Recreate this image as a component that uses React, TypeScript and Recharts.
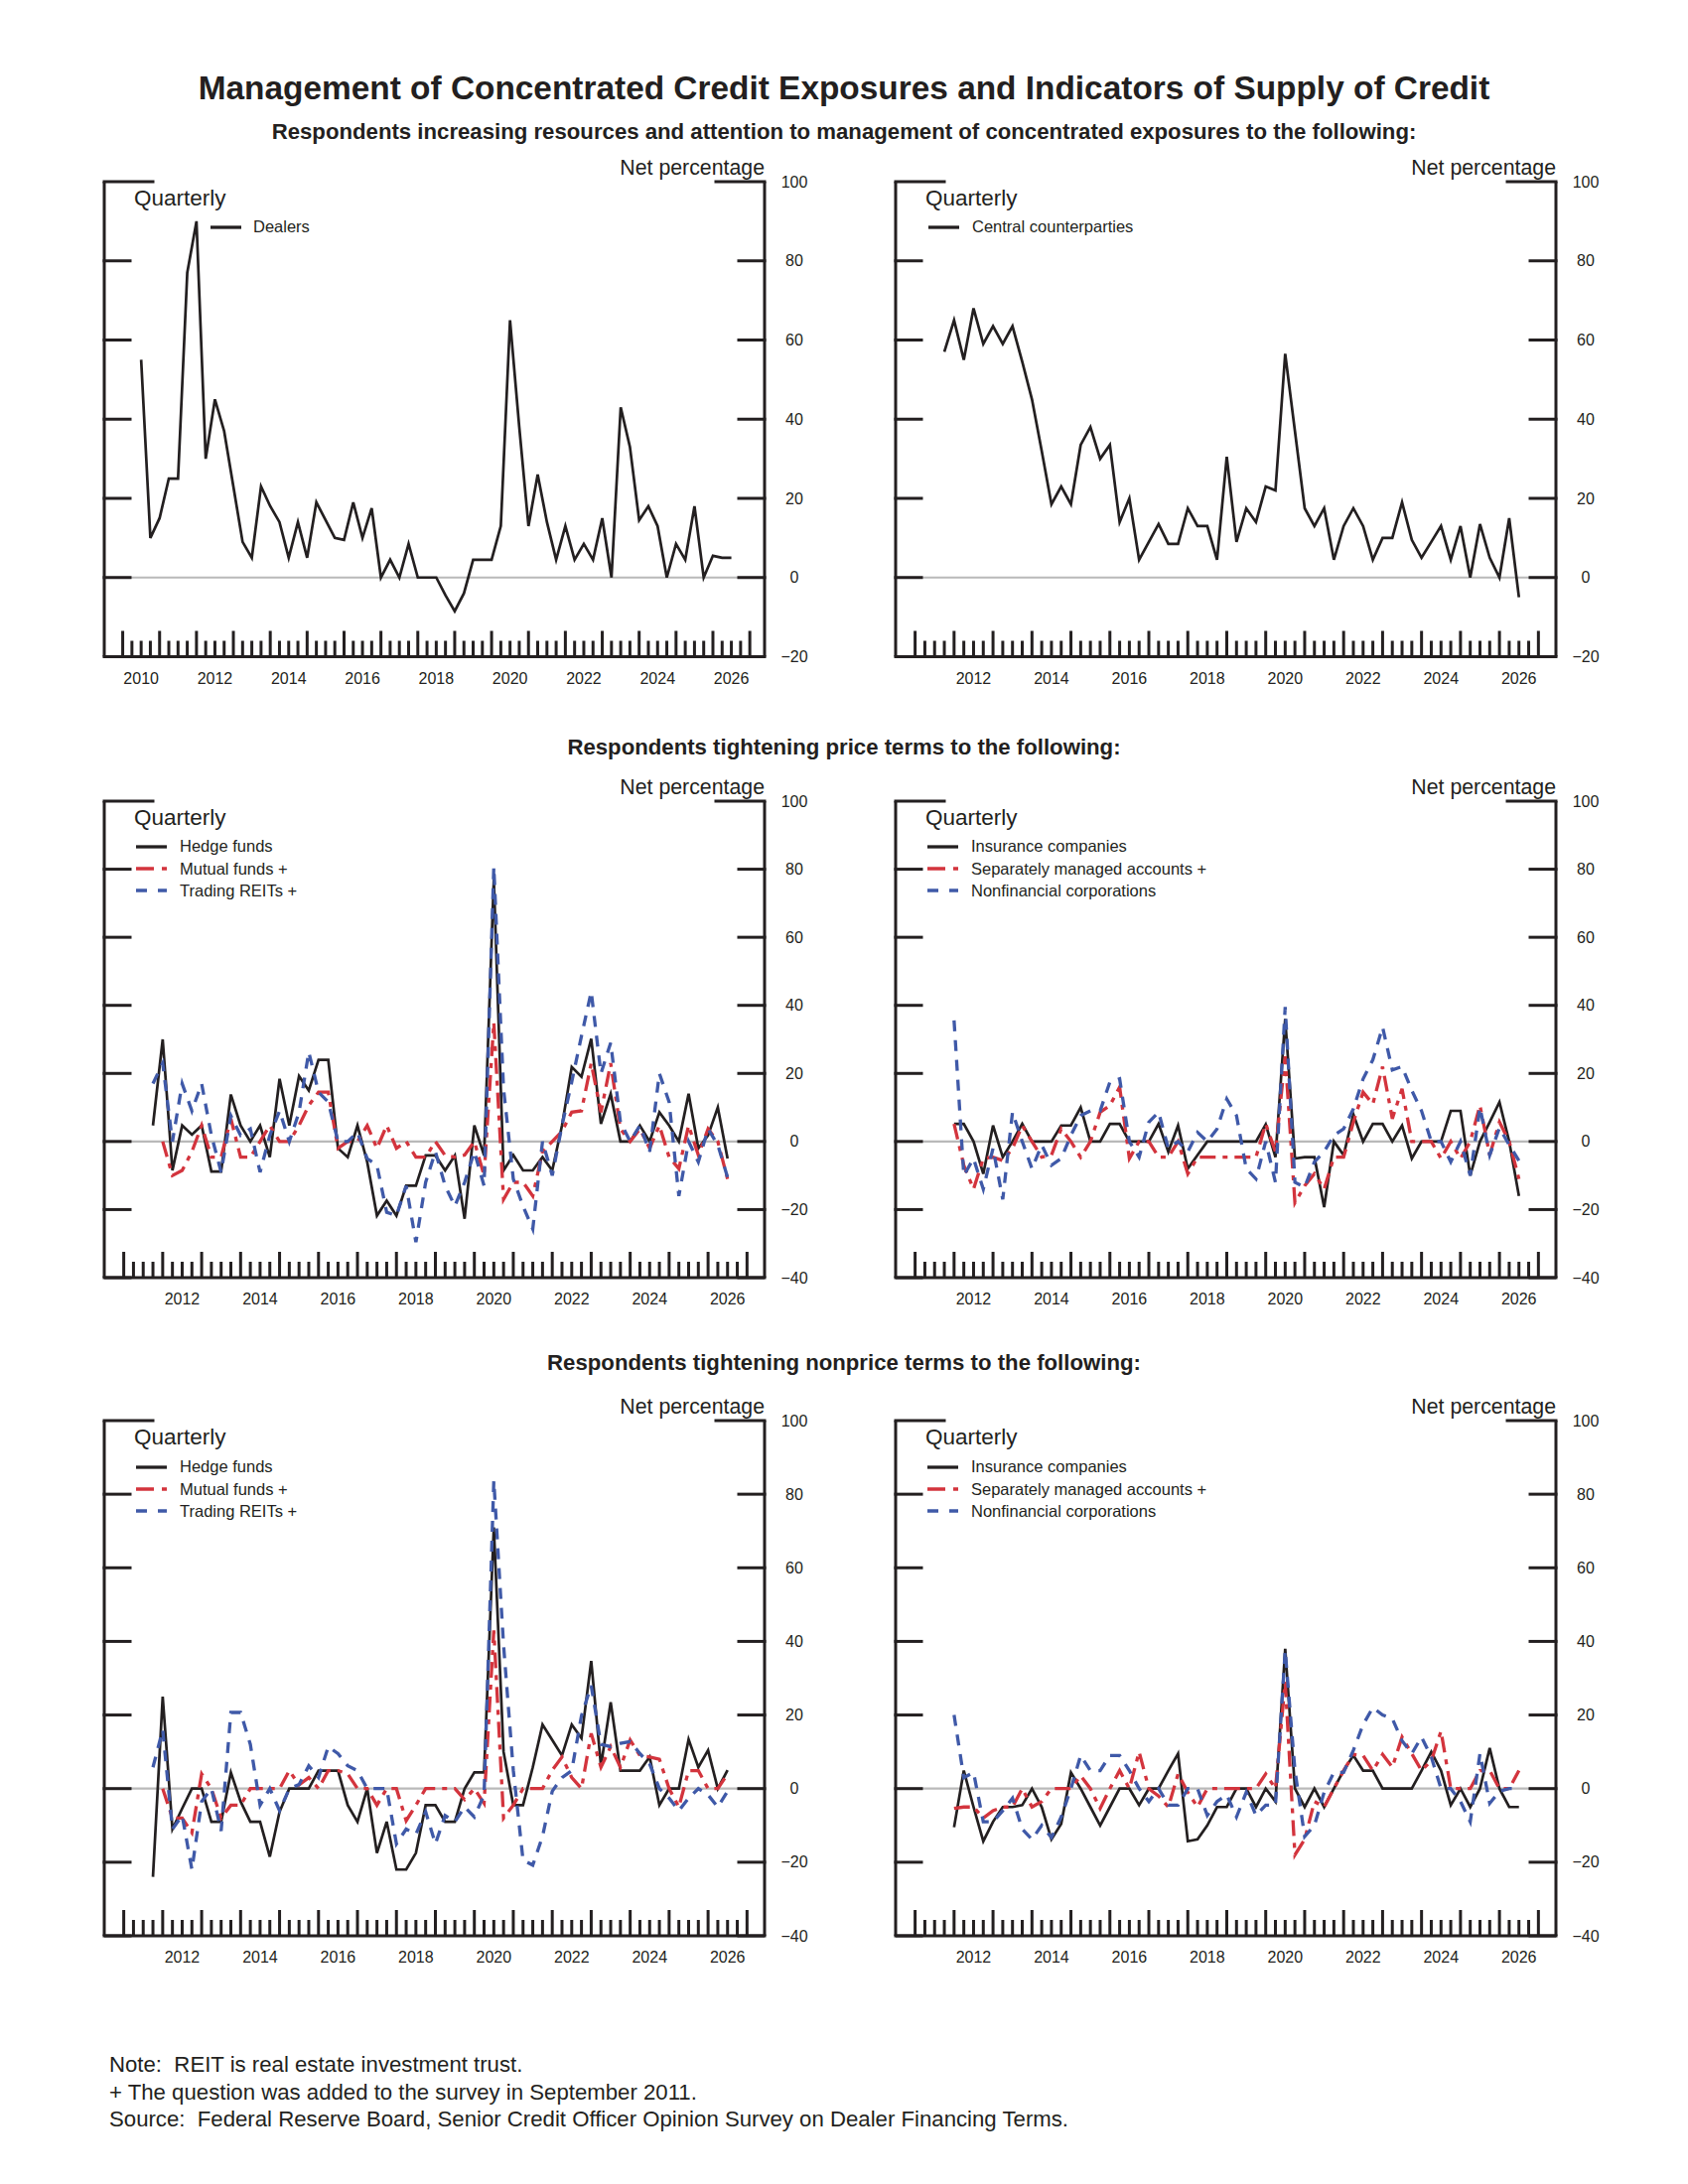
import React from "react";
import { LineChart, Line, XAxis, YAxis, ReferenceLine, Legend } from "recharts";

const FONT = "'Liberation Sans', Arial, Helvetica, sans-serif";
const INK = "#231f20";
const RED = "#d3343d";
const BLUE = "#3f59a8";
const ZERO = "#b9b9b9";
const FRAME_W = 3;

// ---- Net percentage, quarterly. Each series: first quarter position + values ----
const dealersStart = 2010.5;
const dealers = [55, 10, 15, 25, 25, 77, 90, 30, 45, 37, 23, 9, 5, 23, 18, 14, 5, 14, 5, 19, 14.5, 10, 9.5, 19, 10, 17.5, 0, 4.5, 0, 8.5, 0, 0, 0, -4.5, -8.5, -4, 4.5, 4.5, 4.5, 13, 65, 38, 13, 26, 14, 4.5, 13, 4.5, 8.5, 4.5, 15, 0, 43, 33, 14.5, 18, 13, 0, 8.5, 4.5, 18, 0, 5.5, 5, 5];

const ccpStart = 2011.75;
const centralCounterparties = [57, 65, 55, 68, 59, 63.5, 59, 63.5, 54.5, 45, 32, 18.5, 23, 18.5, 33.5, 38, 30, 33.5, 14, 20, 4.5, 9, 13.5, 8.5, 8.5, 17.5, 13, 13, 4.5, 30.5, 9, 17.5, 14, 23, 22, 56.5, 37, 17.5, 13, 17.5, 4.5, 13, 17.5, 13, 4.5, 10, 10, 19, 9.5, 5, 9, 13, 4.5, 13, 0, 13.5, 5, 0, 15, -5];

const leftStart = 2011.75;
const rightStart = 2012;

const priceHedge = [4.7, 30, -8.5, 4.7, 2, 4.7, -8.8, -8.8, 13.8, 4.7, 0, 4.7, -4.6, 18.4, 4.7, 19.2, 15, 24, 24, -2, -4.6, 4.7, -6, -21.8, -17.4, -21.8, -13, -13, -4.1, -4.1, -8.5, -4.1, -22.7, 4.7, -4.1, 77, -8.5, -4, -8.5, -8.5, -4.6, -8.5, 4.7, 21.9, 19, 30.2, 5.2, 14, 0, 0, 4.7, 0, 8.6, 4.7, 0, 14, -2, 1.8, 10, -5];
const priceMutual = [null, 0, -10, -8.5, -3, 4.7, -4.6, -4.6, 6.7, -4.6, -4.6, 0, 4.7, 0, 0, 4.7, 10.6, 14.5, 14.5, -2, 0, 0, 4.7, -2, 4.7, -2, 0, -4.6, -4.6, 0, -4.1, -4.6, -4, 0, -10, 35, -17, -12, -12, -16, -3, 0, 3, 8.6, 9, 23, 8.6, 23, 3.7, 0, 3.7, -2, 4.7, -4.6, -8, 4.7, -4, 3.7, 0, -11];
const priceReits = [17, 23, 0, 17, 9, 17, 1.8, -9, 7.6, 1.8, 3.7, -9, 1.8, 9, 0, 8.6, 26.3, 14.5, 11.6, 0, 0, 2.7, -5, -7, -20.8, -21.8, -13, -29.6, -12, -3, -13, -19, -12, -3, -13, 80.7, 15.5, -11, -19, -25.7, 0, -10, 4.7, 17.5, 31, 44, 20, 29, 5.7, 0, 4.7, -3, 20, 11.6, -16, 0, -6, 3.7, -1, -10.5];

const priceInsurance = [5.2, 5.2, 0, -9.5, 4.7, -4.6, 0, 5.2, 0, 0, 0, 4.7, 4.7, 10, 0, 0, 5.2, 5.2, 0, 0, 0, 5.2, -3, 4.7, -8, -4, 0, 0, 0, 0, 0, 0, 5, -4.6, 36, -5, -4.6, -4.6, -19.3, 0, -4, 8, 0, 5.2, 5.2, 0, 4.7, -5, 0, 0, 0, 9, 9, -10, 0, 5.7, 11.6, 0, -16];
const priceSma = [5.2, -7, -14, -5, -4.6, -5.6, -2, 4.7, 0, -4.6, -4, 3.7, 0, -4.6, 0, 8.6, 10.6, 16, -5, 0, 0, -4.6, -4.6, 0, -9.5, -4.6, -4.6, -4.6, -4.6, -4.6, -4.6, -4.6, 5.2, -3, 25, -18, -13, -9.5, -14, -4.6, -4.6, 5.7, 14.5, 11, 22, 6.7, 15.5, 0, 0, 0, -5, 0, -5, 0, 10.6, -4, 5.7, 0, -11];
const priceNonfin = [35.6, -10, -5, -14, -2, -17, 8.6, 0, -8, -1, -7, -5, 1.8, 7.6, 9, 9, 17.5, 18.4, 0, -4.6, 5.7, 8.6, -2, 0, -3, 2.7, 0, 3.7, 12.5, 7.6, -8, -11, 0, -12, 39.5, -12, -13.4, -6, -3, 1.8, 3.7, 9.6, 18.4, 24, 33.6, 21, 22, 15, 9, 0, 0, -6, 0, -10, 10, -4, 4, -1, -5.6];

const nonpriceHedge = [-24, 25, -11, -5.4, 0, 0, -9, -9, 4.4, -3.5, -9, -9, -18.5, -6.3, 0, 0, 0, 4.9, 4.9, 4.9, -4.5, -9, 0, -17.5, -9, -22, -22, -17.5, -4.5, -4.5, -9, -9, 0, 4.4, 4.4, 71, 10, -4.5, -4.5, 5.8, 17.4, 13.2, 9, 17.4, 13.7, 34.7, 6.2, 23.5, 4.9, 4.9, 4.9, 8.6, -4.5, 0, 0, 13.4, 5.8, 10.4, 0, 5];
const nonpriceMutual = [null, 0, -8, -8, -12, 4, 0, -8, -4.5, -4.5, 0, 0, 0, 0, 4.9, 1, 3, 0, 4.9, 4.9, 4, 0, 0, -4.5, 0, 0, -8.7, -4.5, 0, 0, 0, 0, -3, 0, -4, 43, -8, -4.5, 0, 0, 0, 5, 8.6, 3, 0, 15, 5.8, 11.4, 5.8, 13.2, 9, 8.6, 8, 0, -5, 4.9, 4.9, 0, 0, 4];
const nonpriceReits = [5.8, 16, -11, -7.3, -22, -3.5, 0, -11.5, 20.7, 20.7, 12, -4.5, 0, -6, 0, 1.1, 6.2, 3, 11.4, 9.5, 6.2, 4.9, 0, 0, 0, -15, -11, -12.4, -6.3, -15, -7.3, -9, -5, -7.7, -1.7, 83.7, 39, 5, -19.4, -20.8, -13, -0.7, 3, 4.9, 19.8, 28, 12, 11.4, 12.3, 12.8, 9.5, 6.7, 0, -2.6, -6, -2.6, 0, -1.7, -5, -0.7];

const nonpriceInsurance = [-10.5, 4.9, -5, -14.3, -9, -5, -5, -4.5, 0, -5, -13.8, -9.6, 4.4, 0, -5, -10, -5, 0, 0, -4.5, 0, 0, 4.9, 9.5, -14.3, -13.8, -10, -5, -5, 0, 0, -5, 0, -3.5, 38, 0, -5, 0, -5, 0, 4.9, 9, 4.9, 4.9, 0, 0, 0, 0, 4.9, 10, 4.9, -4.5, 0, -5, 0, 11, 0, -5, -5];
const nonpriceSma = [-5.4, -5, -5, -8, -6, -5, -5, 0, -5, -3.5, 0, 0, 0, 3.5, 0, -5.4, 0, 4.9, 0, 10, 0, -2, -5, 4, -1, -5, 0, 0, 0, 0, 0, 0, 4, 0, 29, -18, -13.8, -3.5, -5, 0, 4.9, 9.3, 9, 4.9, 9.3, 5.8, 14, 9.5, 4.9, 7.6, 15.6, 0, 0, 0, 4.9, 4.9, 0, 0, 4.9];
const nonpriceNonfin = [20, 3, 4.4, -9, -9, -6, -2.6, -11, -13.8, -10, -13.3, -7.7, 0, 9, 4.9, 4.9, 9, 9, 4.9, 0, -3.5, 0, -4.5, -4.5, 0, 0, -7.3, -3.5, -1.7, -7.7, -1, -7.3, -4.5, -4.5, 37.5, 5, -13, -10, -1, 4.4, 4.4, 10.4, 17.4, 22, 20, 19, 13, 9.5, 14, 8.6, 0, 0, -3.5, -9, 9.5, -4, -0.7, 0, 0];

const yTicksTop = [-20, 0, 20, 40, 60, 80, 100];
const yTicksLower = [-40, -20, 0, 20, 40, 60, 80, 100];

type Series = {
  key: string;
  name: string;
  start: number;
  values: (number | null)[];
  color: string;
  width: number;
  dash?: string;
};

type PanelSpec = {
  id: string;
  left: number;
  top: number;
  width: number;
  height: number;
  xDomain: [number, number];
  firstTick: number;
  yTicks: number[];
  series: Series[];
  legendX: number;
  legendY: number;
  rowH: number;
};

const solid = (key: string, name: string, start: number, values: (number | null)[]): Series => ({ key, name, start, values, color: INK, width: 2.7 });
const redDash = (key: string, name: string, start: number, values: (number | null)[]): Series => ({ key, name, start, values, color: RED, width: 3.3, dash: "16 7 5 7" });
const blueDash = (key: string, name: string, start: number, values: (number | null)[]): Series => ({ key, name, start, values, color: BLUE, width: 3.3, dash: "11 9" });

function buildRows(series: Series[]) {
  const map = new Map<number, Record<string, number | null>>();
  series.forEach((s) =>
    s.values.forEach((v, i) => {
      const t = s.start + i * 0.25;
      const row = map.get(t) ?? { t };
      row[s.key] = v;
      map.set(t, row);
    })
  );
  return [...map.values()].sort((a, b) => (a.t as number) - (b.t as number));
}

const PAD = 12;
const AXIS_W = 70;
const AXIS_H = 46;

function LegendBox({ series, rowH, gap }: { series: Series[]; rowH: number; gap: number }) {
  return (
    <div style={{ fontFamily: FONT, fontSize: 16.5, color: INK }}>
      {series.map((s) => (
        <div key={s.key} style={{ display: "flex", alignItems: "center", height: rowH, whiteSpace: "nowrap" }}>
          <svg width={31} height={8} style={{ display: "block" }}>
            <line x1={0} x2={31} y1={4} y2={4} stroke={s.color} strokeWidth={3.3} strokeDasharray={s.dash ? (s.color === RED ? "18 8 5 8" : "11 11") : undefined} />
          </svg>
          <span style={{ marginLeft: gap, lineHeight: 1 }}>{s.name}</span>
        </div>
      ))}
    </div>
  );
}

function Panel({ p }: { p: PanelSpec }) {
  const rows = buildRows(p.series);
  const xTicks: number[] = [];
  for (let t = p.firstTick; t <= 2027 + 1e-9; t += 0.25) xTicks.push(t);
  const yMin = p.yTicks[0];
  const yMax = p.yTicks[p.yTicks.length - 1];

  const XTick = (props: any) => {
    const { x, y, payload } = props;
    const v = payload.value as number;
    const whole = Math.abs(v - Math.round(v)) < 1e-6;
    const mid = Math.abs(v - Math.floor(v) - 0.5) < 1e-6;
    const label = mid && Math.floor(v) % 2 === 0;
    return (
      <g>
        <line x1={x} x2={x} y1={y} y2={y - (whole ? 26 : 16)} stroke={INK} strokeWidth={FRAME_W} />
        {label && (
          <text x={x} y={y + 27} textAnchor="middle" fontSize={16} fill={INK} fontFamily={FONT}>
            {Math.floor(v)}
          </text>
        )}
      </g>
    );
  };

  const YTick = (props: any) => {
    const { x, y, payload } = props;
    const v = payload.value as number;
    const len = v === yMax ? 49 : 26;
    const text = v < 0 ? `\u2212${-v}` : `${v}`;
    return (
      <g>
        <line x1={x} x2={x - len} y1={y} y2={y} stroke={INK} strokeWidth={FRAME_W} strokeLinecap="square" />
        <line x1={x - p.width} x2={x - p.width + len} y1={y} y2={y} stroke={INK} strokeWidth={FRAME_W} strokeLinecap="square" />
        <text x={x + 30} y={y + 5.5} textAnchor="middle" fontSize={16} fill={INK} fontFamily={FONT}>
          {text}
        </text>
      </g>
    );
  };

  return (
    <div style={{ position: "absolute", left: p.left - PAD, top: p.top - PAD }}>
      <LineChart
        width={p.width + PAD + AXIS_W}
        height={p.height + PAD + AXIS_H}
        data={rows}
        margin={{ top: PAD, left: PAD, right: 0, bottom: 0 }}
      >
        <ReferenceLine y={0} stroke={ZERO} strokeWidth={2.2} />
        <ReferenceLine x={p.xDomain[0]} stroke={INK} strokeWidth={FRAME_W} />
        <XAxis
          type="number"
          dataKey="t"
          domain={p.xDomain}
          ticks={xTicks}
          interval={0}
          allowDataOverflow
          tickSize={0}
          tickMargin={0}
          tickLine={false}
          axisLine={{ stroke: INK, strokeWidth: FRAME_W }}
          height={AXIS_H}
          tick={XTick}
        />
        <YAxis
          orientation="right"
          type="number"
          domain={[yMin, yMax]}
          ticks={p.yTicks}
          interval={0}
          allowDataOverflow
          tickSize={0}
          tickMargin={0}
          tickLine={false}
          axisLine={{ stroke: INK, strokeWidth: FRAME_W }}
          width={AXIS_W}
          tick={YTick}
        />
        <Legend
          layout="vertical"
          align="center"
          verticalAlign="middle"
          wrapperStyle={{ left: PAD + p.legendX, top: PAD + p.legendY, width: "auto", height: "auto" }}
          content={() => <LegendBox series={p.series} rowH={p.rowH} gap={p.legendX > 60 ? 12 : 13} />}
        />
        {p.series.map((s) => (
          <Line
            key={s.key}
            type="linear"
            dataKey={s.key}
            name={s.name}
            stroke={s.color}
            strokeWidth={s.width}
            strokeDasharray={s.dash}
            dot={false}
            activeDot={false}
            isAnimationActive={false}
          />
        ))}
      </LineChart>
    </div>
  );
}

const L = 105;
const R = 902;
const W = 665;
const TOP_Y = 182.5;
const MID_Y = 807;
const BOT_Y = 1431;

const panels: PanelSpec[] = [
  {
    id: "tl", left: L, top: TOP_Y, width: W, height: 478.5, xDomain: [2009.5, 2027.4], firstTick: 2010, yTicks: yTicksTop,
    series: [solid("dealers", "Dealers", dealersStart, dealers)], legendX: 107, legendY: 35, rowH: 22,
  },
  {
    id: "tr", left: R, top: TOP_Y, width: W, height: 478.5, xDomain: [2010.5, 2027.45], firstTick: 2011, yTicks: yTicksTop,
    series: [solid("ccp", "Central counterparties", ccpStart, centralCounterparties)], legendX: 33, legendY: 35, rowH: 22,
  },
  {
    id: "ml", left: L, top: MID_Y, width: W, height: 480, xDomain: [2010.5, 2027.45], firstTick: 2011, yTicks: yTicksLower,
    series: [
      solid("hedge", "Hedge funds", leftStart, priceHedge),
      redDash("mutual", "Mutual funds +", leftStart, priceMutual),
      blueDash("reits", "Trading REITs +", leftStart, priceReits),
    ],
    legendX: 32, legendY: 34.5, rowH: 22.4,
  },
  {
    id: "mr", left: R, top: MID_Y, width: W, height: 480, xDomain: [2010.5, 2027.45], firstTick: 2011, yTicks: yTicksLower,
    series: [
      solid("ins", "Insurance companies", rightStart, priceInsurance),
      redDash("sma", "Separately managed accounts +", rightStart, priceSma),
      blueDash("nfc", "Nonfinancial corporations", rightStart, priceNonfin),
    ],
    legendX: 32, legendY: 34.5, rowH: 22.4,
  },
  {
    id: "bl", left: L, top: BOT_Y, width: W, height: 519, xDomain: [2010.5, 2027.45], firstTick: 2011, yTicks: yTicksLower,
    series: [
      solid("hedge", "Hedge funds", leftStart, nonpriceHedge),
      redDash("mutual", "Mutual funds +", leftStart, nonpriceMutual),
      blueDash("reits", "Trading REITs +", leftStart, nonpriceReits),
    ],
    legendX: 32, legendY: 35.4, rowH: 22.4,
  },
  {
    id: "br", left: R, top: BOT_Y, width: W, height: 519, xDomain: [2010.5, 2027.45], firstTick: 2011, yTicks: yTicksLower,
    series: [
      solid("ins", "Insurance companies", rightStart, nonpriceInsurance),
      redDash("sma", "Separately managed accounts +", rightStart, nonpriceSma),
      blueDash("nfc", "Nonfinancial corporations", rightStart, nonpriceNonfin),
    ],
    legendX: 32, legendY: 35.4, rowH: 22.4,
  },
];

export default function App() {
  return (
    <div style={{ position: "absolute", left: 0, top: 0, width: 1700, height: 2200, background: "#fff", fontFamily: FONT }}>
      <svg width={1700} height={2200} style={{ position: "absolute", left: 0, top: 0 }} fontFamily={FONT} fill={INK}>
        <text x={850} y={100.3} textAnchor="middle" fontSize={33.4} fontWeight="bold">
          Management of Concentrated Credit Exposures and Indicators of Supply of Credit
        </text>
        <text x={850} y={140.2} textAnchor="middle" fontSize={22.2} fontWeight="bold">
          Respondents increasing resources and attention to management of concentrated exposures to the following:
        </text>
        <text x={850} y={760} textAnchor="middle" fontSize={22.2} fontWeight="bold">
          Respondents tightening price terms to the following:
        </text>
        <text x={850} y={1380} textAnchor="middle" fontSize={22.2} fontWeight="bold">
          Respondents tightening nonprice terms to the following:
        </text>
        {panels.map((p) => (
          <g key={p.id}>
            <text x={p.left + 30} y={p.top + 24} fontSize={22.5}>Quarterly</text>
            <text x={p.left + p.width} y={p.top - 7} textAnchor="end" fontSize={21.3}>Net percentage</text>
          </g>
        ))}
        <g fontSize={22.2}>
          <text x={110} y={2087} xmlSpace="preserve">Note:  REIT is real estate investment trust.</text>
          <text x={110} y={2114.5} xmlSpace="preserve">+ The question was added to the survey in September 2011.</text>
          <text x={110} y={2142} xmlSpace="preserve">Source:  Federal Reserve Board, Senior Credit Officer Opinion Survey on Dealer Financing Terms.</text>
        </g>
      </svg>
      {panels.map((p) => (
        <Panel key={p.id} p={p} />
      ))}
    </div>
  );
}
